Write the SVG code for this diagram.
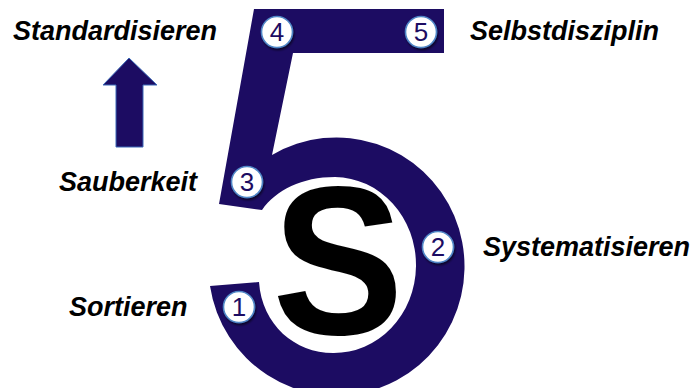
<svg xmlns="http://www.w3.org/2000/svg" width="699" height="388" viewBox="0 0 699 388">
  <style>
    .label { font-family: "Liberation Sans", Arial, sans-serif; font-size: 27px; font-weight: bold; font-style: italic; fill: #000000; }
    .num { font-family: "Liberation Sans", Arial, sans-serif; font-size: 26px; fill: #1c0c62; text-anchor: middle; }
    .badge { fill: #ffffff; stroke: #4f86c6; stroke-width: 1.6; filter: url(#shadow); }
    .navy { fill: #1c0c62; }
  </style>
  <defs>
    <filter id="shadow" x="-30%" y="-30%" width="160%" height="160%">
      <feGaussianBlur in="SourceAlpha" stdDeviation="1.2"/>
      <feOffset dx="1" dy="1.5" result="b"/>
      <feComponentTransfer><feFuncA type="linear" slope="0.6"/></feComponentTransfer>
      <feMerge><feMergeNode/><feMergeNode in="SourceGraphic"/></feMerge>
    </filter>
  </defs>
  <rect width="699" height="388" fill="#ffffff"/>

  <g id="five">
    <path class="navy" d="M254 9 L444 9 L444 53 L293 53 L272 155 A128 129 0 1 1 210 286 L259 282 C262 325 295 353 333 353 A82 88 0 0 0 335 177 C302 177 276 190 262 210 L219 204 Z"/>
  </g>

  <g id="big-s">
    <text transform="translate(338 334) scale(0.97 1.04)" x="0" y="0" font-family="Liberation Sans, Arial, sans-serif" font-size="203" font-weight="bold" text-anchor="middle" fill="#000000">S</text>
  </g>

  <g id="arrow">
    <path class="navy" d="M129 58 L157 85 L143 85 L143 147 L116 147 L116 85 L103 85 Z" stroke="#3a68b8" stroke-width="1"/>
  </g>

  <g id="node-1">
    <circle class="badge" cx="239" cy="307" r="15.5"/>
    <text class="num" x="239" y="316">1</text>
    <text class="label" x="69" y="316">Sortieren</text>
  </g>
  <g id="node-2">
    <circle class="badge" cx="438" cy="247" r="15.5"/>
    <text class="num" x="438" y="256">2</text>
    <text class="label" x="483" y="256">Systematisieren</text>
  </g>
  <g id="node-3">
    <circle class="badge" cx="247" cy="182" r="15.5"/>
    <text class="num" x="247" y="191">3</text>
    <text class="label" x="59" y="191">Sauberkeit</text>
  </g>
  <g id="node-4">
    <circle class="badge" cx="277" cy="32" r="15.5"/>
    <text class="num" x="277" y="41">4</text>
    <text class="label" x="13" y="40">Standardisieren</text>
  </g>
  <g id="node-5">
    <circle class="badge" cx="421" cy="32" r="15.5"/>
    <text class="num" x="421" y="41">5</text>
    <text class="label" x="470" y="40">Selbstdisziplin</text>
  </g>

  <g id="connectors"></g>
</svg>
